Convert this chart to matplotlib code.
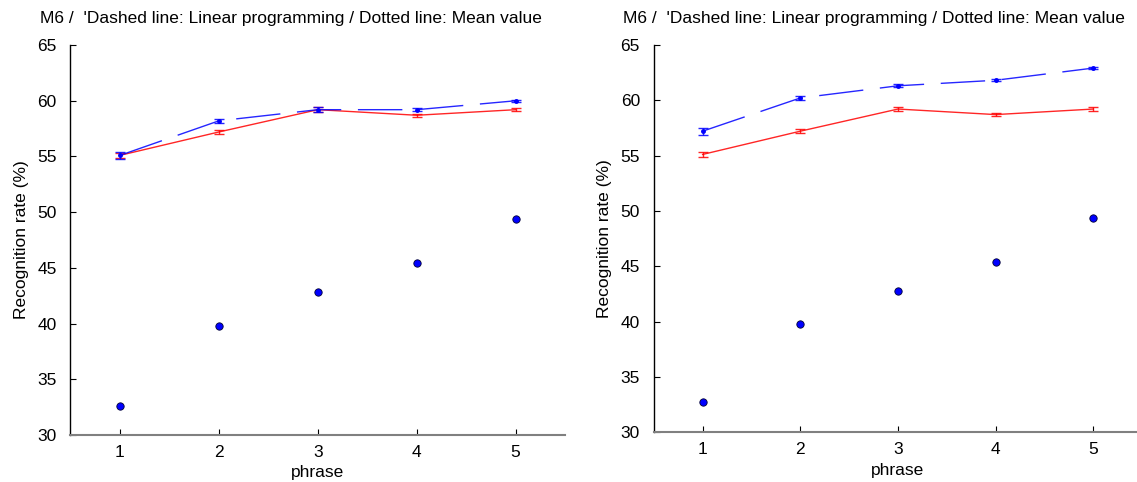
import matplotlib
matplotlib.use("Agg")
import matplotlib.pyplot as plt

plt.rcParams['font.family'] = ['Liberation Sans', 'DejaVu Sans']

phrase = [1, 2, 3, 4, 5]
title = "M6 /  'Dashed line: Linear programming / Dotted line: Mean value"

# Left panel
left_red = [55.1, 57.2, 59.2, 58.7, 59.2]
left_red_err = [0.2, 0.2, 0.2, 0.15, 0.15]
left_blue = [55.1, 58.2, 59.2, 59.2, 60.0]
left_blue_err = [0.3, 0.2, 0.2, 0.15, 0.1]
left_mean = [32.6, 39.8, 42.8, 45.4, 49.4]

# Right panel
right_red = [55.1, 57.2, 59.2, 58.7, 59.2]
right_red_err = [0.2, 0.2, 0.2, 0.1, 0.15]
right_blue = [57.2, 60.2, 61.3, 61.8, 62.9]
right_blue_err = [0.3, 0.2, 0.15, 0.1, 0.1]
right_mean = [32.7, 39.8, 42.8, 45.4, 49.4]

yticks = [30, 35, 40, 45, 50, 55, 60, 65]

fig = plt.figure(figsize=(11.37, 4.82), dpi=100)

panels = [
    ([0.062, 0.0975, 0.435, 0.809], left_red, left_red_err, left_blue, left_blue_err, left_mean, 40),
    ([0.575, 0.1030, 0.4295, 0.804], right_red, right_red_err, right_blue, right_blue_err, right_mean, 623),
]

for rect, red, rerr, blue, berr, mean, tx in panels:
    ax = fig.add_axes(rect)
    ax.errorbar(phrase, red, yerr=rerr, color='#ff0000', lw=1.0, capsize=3.5,
                elinewidth=1.0, capthick=1.0, alpha=0.85, zorder=3)
    ax.errorbar(phrase, blue, yerr=berr, color='#0000ff', lw=1.0, capsize=3.5,
                elinewidth=1.0, capthick=1.0, dashes=(32, 12), alpha=0.85, zorder=3)
    ax.plot(phrase, blue, 'o', color='#0000ff', ms=2.5, zorder=4)
    ax.plot(phrase, mean, 'o', ls='none', markerfacecolor='#0000ff',
            markeredgecolor='#000033', markeredgewidth=0.6, ms=5.3, zorder=4)
    ax.set_xlim(0.5, 5.5)
    ax.set_ylim(30, 65)
    ax.set_xticks(phrase)
    ax.set_yticks(yticks)
    ax.tick_params(direction='in', length=4, labelsize=12.5, width=0.8)
    ax.tick_params(axis='y', pad=10)
    ax.tick_params(axis='x', pad=7)
    ax.spines['top'].set_visible(False)
    ax.spines['right'].set_visible(False)
    ax.spines['left'].set_color('black')
    ax.spines['left'].set_linewidth(1.0)
    ax.spines['bottom'].set_color('#808080')
    ax.spines['bottom'].set_linewidth(1.5)
    ax.set_xlabel('phrase', fontsize=12.5, labelpad=4)
    ax.set_ylabel('Recognition rate (%)', fontsize=12.5, labelpad=6)
    fig.text(tx / 1137, 1 - 18 / 482, title, fontsize=12.5, ha='left', va='center')

fig.savefig('out.png', dpi=100)
